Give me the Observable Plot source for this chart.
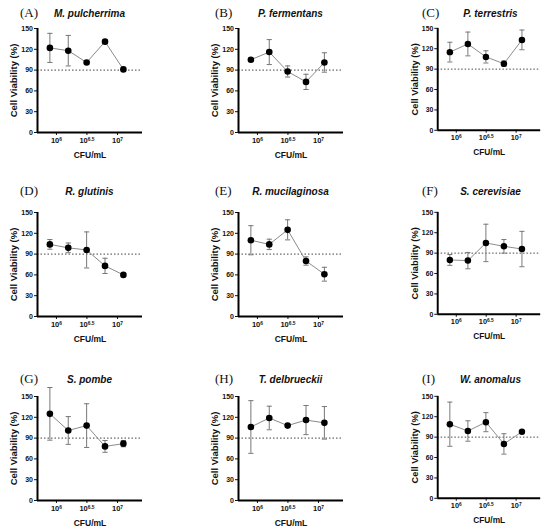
<!DOCTYPE html>
<html><head><meta charset="utf-8">
<script src="https://cdn.jsdelivr.net/npm/d3@7"></script>
<script src="https://cdn.jsdelivr.net/npm/@observablehq/plot@0.6"></script>
<style>
body{margin:0;background:#fff;}
#fig{position:relative;width:550px;height:531px;overflow:hidden;background:#fff;}
.panel{position:absolute;}
.lab{position:absolute;font-family:"Liberation Serif","Times New Roman",serif;font-size:13px;transform:translateY(-50%);white-space:nowrap;color:#111;}
.sp{position:absolute;font-family:"Liberation Sans",Arial,sans-serif;font-weight:bold;font-style:italic;font-size:10px;transform:translate(-50%,-50%);white-space:nowrap;color:#111;}
[aria-label="y-axis label"] text{font-size:9.5px;}
[aria-label="x-axis label"] text{font-size:8.5px;}
</style></head><body><div id="fig"></div>
<script>
// ---- data ----
const concentrations = [781250, 1562500, 3125000, 6250000, 12500000]; // CFU/mL
const panelLetters = ["(A)","(B)","(C)","(D)","(E)","(F)","(G)","(H)","(I)"];
const species = ["M. pulcherrima","P. fermentans","P. terrestris","R. glutinis","R. mucilaginosa","S. cerevisiae","S. pombe","T. delbrueckii","W. anomalus"];
const meanA = [122, 118, 101, 131, 91];  const sdA = [21, 22, 2, 2, 1];
const meanB = [105, 116, 88, 73, 101];   const sdB = [2, 18, 8, 11, 14];
const meanC = [115, 127, 108, 98, 133];  const sdC = [14.5, 17.5, 9, 4, 14.5];
const meanD = [104, 99, 96, 73, 60];     const sdD = [7, 7, 26, 11, 1];
const meanE = [110, 104, 125, 80, 61];   const sdE = [21, 7.5, 14.5, 6, 10];
const meanF = [80, 79, 105, 100, 96];    const sdF = [8, 12, 27.5, 10, 26];
const meanG = [125, 101, 108, 78, 82];   const sdG = [38, 20, 31.5, 8.5, 4.5];
const meanH = [106, 119, 108, 116, 112]; const sdH = [38, 17, 2.5, 21, 23.5];
const meanI = [109, 99, 112, 80, 98];    const sdI = [32.5, 15, 14, 15, 1];
const threshold = 90;
const yTicks = [0, 30, 60, 90, 120, 150];
const xTicks = [1e6, Math.pow(10, 6.5), 1e7];
const xTickBase = ["10", "10", "10"];
const xTickExp = ["6", "6.5", "7"];
const xDomain = [Math.pow(10, 5.69), Math.pow(10, 7.41)];
const yDomain = [0, 150];

const means = [meanA, meanB, meanC, meanD, meanE, meanF, meanG, meanH, meanI];
const sds = [sdA, sdB, sdC, sdD, sdE, sdF, sdG, sdH, sdI];

// ---- layout ----
const colAxisX = [37, 238, 438];
const rowTop = [28, 212, 396];
const labelX = [20, 215, 422];
const titleY = [12.5, 190.5, 378.5];
const ML = 40, MT = 8, MR = 10, MB = 34, PW = 105, PH = 104;

const capSymbol = {draw(ctx, size) { const w = Math.sqrt(size / Math.PI); ctx.moveTo(-w, 0); ctx.lineTo(w, 0); }};
const fig = document.getElementById("fig");

for (let i = 0; i < 9; i++) {
  const col = i % 3, row = Math.floor(i / 3);
  const rows = concentrations.map((c, j) => ({c, v: means[i][j], lo: means[i][j] - sds[i][j], hi: means[i][j] + sds[i][j]}));
  const svg = Plot.plot({
    width: ML + PW + MR, height: MT + PH + MB,
    marginLeft: ML, marginTop: MT, marginRight: MR, marginBottom: MB,
    style: {fontFamily: "'Liberation Sans', Arial, sans-serif", fontWeight: "bold", background: "transparent", color: "#111", overflow: "visible"},
    x: {type: "log", domain: xDomain},
    y: {domain: yDomain},
    marks: [
      Plot.ruleY([threshold], {stroke: "#444", strokeWidth: 1, strokeDasharray: "1.5,2"}),
      Plot.ruleX(rows, {x: "c", y1: "lo", y2: "hi", stroke: "#777", strokeWidth: 1}),
      Plot.dot(rows, {x: "c", y: "hi", symbol: capSymbol, r: 2.6, fill: "none", stroke: "#777", strokeWidth: 1}),
      Plot.dot(rows, {x: "c", y: "lo", symbol: capSymbol, r: 2.6, fill: "none", stroke: "#777", strokeWidth: 1}),
      Plot.line(rows, {x: "c", y: "v", stroke: "#8a8a8a", strokeWidth: 1}),
      Plot.dot(rows, {x: "c", y: "v", r: 3.3, fill: "#000", stroke: "none"}),
      Plot.axisY({ticks: yTicks, tickSize: 3, tickPadding: 1.5, fontSize: 7, label: "Cell Viability (%)", labelAnchor: "center", labelArrow: "none", labelOffset: 27}),
      Plot.axisX({ticks: xTicks, tickFormat: d => xTickBase[xTicks.indexOf(d)] + "^" + xTickExp[xTicks.indexOf(d)], tickSize: 3, tickPadding: 2, fontSize: 7.5, label: "CFU/mL", labelAnchor: "center", labelArrow: "none", labelOffset: 25}),
      Plot.ruleX([xDomain[0]], {stroke: "#000", strokeWidth: 2}),
      Plot.ruleY([yDomain[0]], {stroke: "#000", strokeWidth: 2})
    ]
  });
  d3.select(svg).selectAll('[aria-label="x-axis tick label"] text').each(function() {
    const t = d3.select(this); const s = t.text(); const parts = s.split("^");
    t.text(null);
    t.append("tspan").text(parts[0]);
    t.append("tspan").attr("dy", "-0.45em").attr("font-size", "0.65em").text(parts[1]);
  });
  const wrap = document.createElement("div");
  wrap.className = "panel";
  wrap.style.left = (colAxisX[col] - ML) + "px";
  wrap.style.top = (rowTop[row] - MT) + "px";
  wrap.appendChild(svg);
  fig.appendChild(wrap);

  const lab = document.createElement("div");
  lab.className = "lab"; lab.textContent = panelLetters[i];
  lab.style.left = labelX[col] + "px"; lab.style.top = titleY[row] + "px";
  fig.appendChild(lab);
  const sp = document.createElement("div");
  sp.className = "sp"; sp.textContent = species[i];
  sp.style.left = (colAxisX[col] + PW / 2) + "px"; sp.style.top = titleY[row] + "px";
  fig.appendChild(sp);
}
</script></body></html>
